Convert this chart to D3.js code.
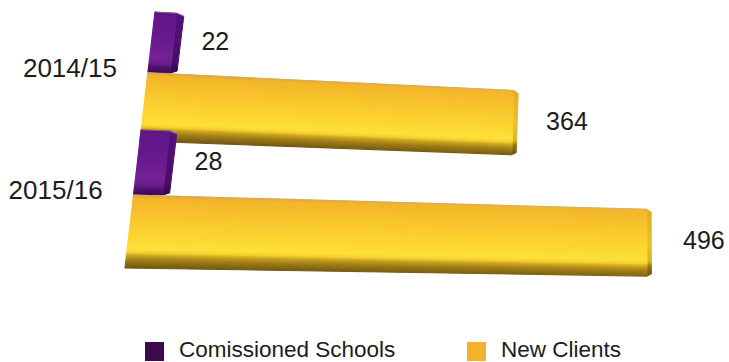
<!DOCTYPE html>
<html><head><meta charset="utf-8">
<script src="https://cdn.jsdelivr.net/npm/d3@7"></script>
<style>html,body{margin:0;padding:0;background:#fff;overflow:hidden}</style>
</head><body><svg id="chart" width="729" height="362"></svg>
<script>
// ---- data ----
const categories = ["2014/15", "2015/16"];
const seriesNames = ["Comissioned Schools", "New Clients"];
const commissionedSchools = [22, 28];
const newClients = [364, 496];
const seriesValues = [commissionedSchools, newClients];

// ---- styles ----
const font = "'Liberation Sans', Arial, Helvetica, sans-serif";
const legendColors = ["#3e0a4c", "#f3b12c"];
const frontStops = [
  { t:[0,0.04,0.4,0.75,0.85,0.92,1], c:["#4e0f70","#62168a","#66188c","#742296","#6a1c8c","#4f1070","#3c0a58"] },
  { t:[0,0.05,0.3,0.6,0.74,0.79,0.83,0.9,1], c:["#e3a52c","#f3b52a","#f8c52c","#fdd731","#fde03a","#f3cf2e","#c9a21e","#9c7a16","#6f5612"] }
];
const sideStops = [
  { t:[0,0.8,1], c:["#55127a","#4a0d68","#320848"] },
  { t:[0,0.5,0.78,0.85,1], c:["#e0ac24","#ebc22a","#d9b424","#9a7816","#6a5212"] }
];
const sideDepth = [7, 4.5];

const svg = d3.select("#chart");
const defs = svg.append("defs");

// ---- perspective scales ----
const leftX = d3.scaleLinear().domain([12, 268]).range([155, 125]);      // left edge x for a screen y
const unitK = d3.scaleLinear().domain([73, 197]).range([1.005, 1.035]);  // px per unit at a screen y
const VP = [6100, 360];                                                  // vanishing point
const maxV = 500;
function xScaleAt(y){ const x0 = leftX(y); return d3.scaleLinear().domain([0, maxV]).range([x0, x0 + unitK(y) * maxV]); }
function edgeY(y0, x0, x){ return y0 + (VP[1] - y0) * (x - x0) / (VP[0] - x0); }

const rowTop = d3.scaleLinear().domain([0, 1]).range([12, 130]);
const rowHeight = d3.scaleLinear().domain([0, 1]).range([129, 138]);
const seriesBand = [[0, 0.465], [0.472, 1]];

function geom(i, s, v){
  const yT = rowTop(i) + rowHeight(i) * seriesBand[s][0];
  const yB = rowTop(i) + rowHeight(i) * seriesBand[s][1];
  const sT = xScaleAt(yT), sB = xScaleAt(yB);
  const TL = [sT(0), yT], BL = [sB(0), yB];
  const TR = [sT(v), edgeY(yT, TL[0], sT(v))];
  const BR = [sB(v), edgeY(yB, BL[0], sB(v))];
  return {TL, TR, BR, BL};
}
const line = d3.line();

function makeGrad(id, stops, x0, yTop, yBot, slope){
  const ang = Math.atan(slope) * 180 / Math.PI;
  const gr = defs.append("linearGradient").attr("id", id)
    .attr("gradientUnits", "userSpaceOnUse")
    .attr("x1", x0).attr("x2", x0).attr("y1", yTop).attr("y2", yBot)
    .attr("gradientTransform", `translate(${x0},0) skewY(${ang}) translate(${-x0},0)`);
  stops.t.forEach((t, k) => gr.append("stop").attr("offset", t).attr("stop-color", stops.c[k]));
}

const layer = svg.append("g");
categories.forEach((cat, i) => {
  seriesValues.forEach((vals, s) => {
    const v = vals[i];
    const g = geom(i, s, v);
    const sTop = (g.TR[1] - g.TL[1]) / (g.TR[0] - g.TL[0]);
    const sBot = (g.BR[1] - g.BL[1]) / (g.BR[0] - g.BL[0]);
    const slope = (sTop + sBot) / 2;
    const fid = `front-${i}-${s}`, sid = `side-${i}-${s}`;
    makeGrad(fid, frontStops[s], g.TL[0], g.TL[1], g.BL[1], slope);
    const sd = sideDepth[s];
    const sideTop = [g.TR[0] + sd, g.TR[1] + 3], sideBot = [g.BR[0] + sd, g.BR[1] - 2];
    makeGrad(sid, sideStops[s], g.TR[0], g.TR[1], g.BR[1], 0);
    const bar = layer.append("g").attr("class", "bar");
    bar.append("path").attr("d", line([g.TR, sideTop, sideBot, g.BR]) + "Z")
      .attr("fill", `url(#${sid})`).attr("stroke", `url(#${sid})`).attr("stroke-width", 1).attr("stroke-linejoin", "round");
    bar.append("path").attr("d", line([g.TL, g.TR, g.BR, g.BL]) + "Z")
      .attr("fill", `url(#${fid})`).attr("stroke", `url(#${fid})`).attr("stroke-width", 1.2).attr("stroke-linejoin", "round");
    // faint top edge
    bar.append("path").attr("d", line([[g.TL[0] + 1, g.TL[1]], g.TR, sideTop]))
      .attr("fill", "none").attr("stroke", "#b8b0a8").attr("stroke-width", 0.8).attr("stroke-opacity", 0.6);
    // value label
    const gap = 17 + v * 0.03;
    const lx = g.TR[0] + sd + gap;
    const midL = (g.TL[1] + g.BL[1]) / 2;
    const ly = edgeY(midL, g.TL[0], lx) - 3;
    svg.append("text").attr("x", lx).attr("y", ly).attr("dy", "0.35em")
      .attr("font-family", font).attr("font-size", 25).attr("fill", "#1c1c1c")
      .text(v);
  });
  // category label
  const yBoundary = rowTop(i) + rowHeight(i) * (seriesBand[0][1] + seriesBand[1][0]) / 2;
  svg.append("text").attr("x", leftX(yBoundary) - 31).attr("y", yBoundary - 5).attr("dy", "0.35em")
    .attr("text-anchor", "end").attr("font-family", font).attr("font-size", 26).attr("fill", "#1c1c1c")
    .text(cat);
});

// ---- legend ----
const legendX = [145, 467];
const legend = svg.append("g");
seriesNames.forEach((name, s) => {
  legend.append("rect").attr("x", legendX[s]).attr("y", 342).attr("width", 19).attr("height", 19).attr("fill", legendColors[s]);
  legend.append("text").attr("x", legendX[s] + 34).attr("y", 357)
    .attr("font-family", font).attr("font-size", 22.5).attr("fill", "#1c1c1c").text(name);
});
</script></body></html>
